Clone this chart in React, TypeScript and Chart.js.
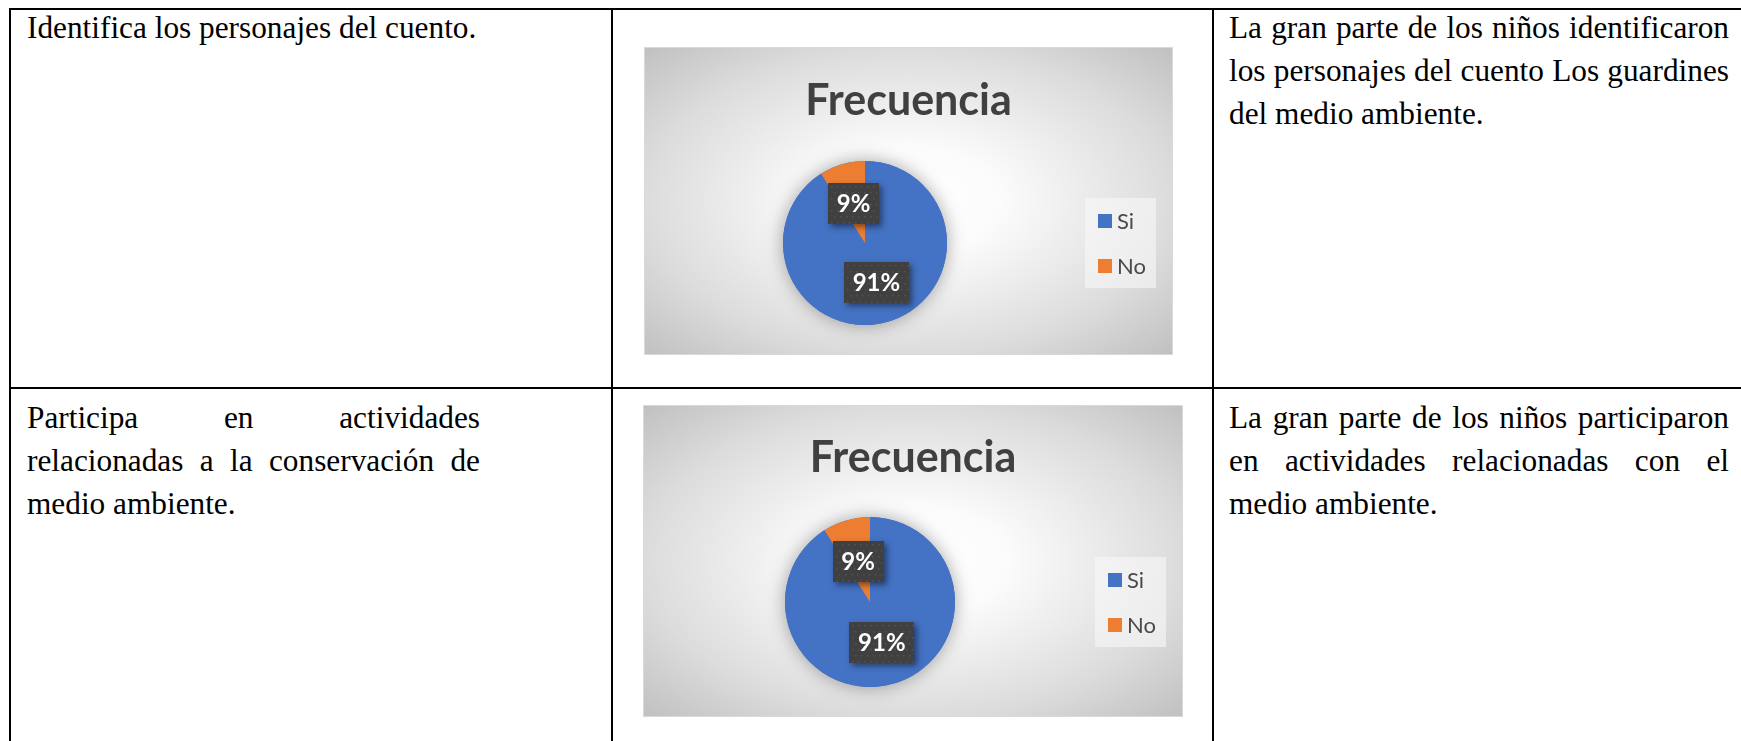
import React, { useEffect, useRef } from 'react';
import { Chart, registerables } from 'chart.js';

Chart.register(...registerables);

// ---- Data ----
const categories = ['Si', 'No'];
const chart1Values = [91, 9];
const chart2Values = [91, 9];
const chartTitle = 'Frecuencia';
const sliceColors = ['#4472C4', '#ED7D31'];

const row1Left = ['Identifica los personajes del cuento.'];
const row1Right = [
  'La gran parte de los niños identificaron',
  'los personajes del cuento Los guardines',
  'del medio ambiente.',
];
const row2Left = ['Participa en actividades', 'relacionadas a la conservación de', 'medio ambiente.'];
const row2Right = [
  'La gran parte de los niños participaron',
  'en actividades relacionadas con el',
  'medio ambiente.',
];

function makeDecor(titleBaseline: number) {
  return {
    id: 'excelDecor',
    beforeDraw(chart: any) {
      const { ctx, width, height } = chart;
      ctx.save();
      // elliptical radial background
      ctx.translate(width / 2, height / 2);
      ctx.scale(width / height, 1);
      const r = (height / 2) * Math.SQRT2;
      const g = ctx.createRadialGradient(0, 0, 0, 0, 0, r);
      g.addColorStop(0, '#ffffff');
      g.addColorStop(0.25, '#fbfbfb');
      g.addColorStop(0.7, '#dcdcdc');
      g.addColorStop(1, '#c0c0c0');
      ctx.fillStyle = g;
      ctx.fillRect(-height / 2 - 1, -height / 2 - 1, height + 2, height + 2);
      ctx.restore();

      ctx.save();
      ctx.strokeStyle = '#d9d9d9';
      ctx.lineWidth = 1;
      ctx.strokeRect(0.5, 0.5, width - 1, height - 1);

      // title
      ctx.font = 'bold 43px Lato';
      ctx.fillStyle = '#404040';
      ctx.textAlign = 'center';
      ctx.textBaseline = 'alphabetic';
      ctx.fillText(chartTitle, width / 2, titleBaseline);

      // legend
      const ca = chart.chartArea;
      const cy = (ca.top + ca.bottom) / 2;
      const bw = 71;
      const bh = 90;
      const bx = width - 17 - bw;
      const by = cy - bh / 2;
      ctx.fillStyle = 'rgba(248,248,248,0.6)';
      ctx.fillRect(bx, by, bw, bh);
      ctx.font = '22px Lato';
      ctx.textAlign = 'left';
      ctx.textBaseline = 'middle';
      categories.forEach((lab, i) => {
        const sy = by + 16 + i * 45;
        ctx.fillStyle = sliceColors[i];
        ctx.fillRect(bx + 13, sy, 14, 14);
        ctx.fillStyle = '#4a4a4a';
        ctx.fillText(lab, bx + 13 + 14 + 5, sy + 8);
      });
      ctx.restore();
    },
    beforeDatasetsDraw(chart: any) {
      const { ctx } = chart;
      const arc = chart.getDatasetMeta(0).data[0];
      if (!arc) return;
      ctx.save();
      ctx.shadowColor = 'rgba(0,0,0,0.35)';
      ctx.shadowBlur = 18;
      ctx.fillStyle = sliceColors[0];
      ctx.beginPath();
      ctx.arc(arc.x, arc.y, arc.outerRadius, 0, Math.PI * 2);
      ctx.fill();
      ctx.restore();
    },
    afterDatasetsDraw(chart: any) {
      const { ctx } = chart;
      const ds = chart.data.datasets[0].data as number[];
      const total = ds.reduce((a, b) => a + b, 0);
      const meta = chart.getDatasetMeta(0);
      meta.data.forEach((arc: any, i: number) => {
        const p = arc.tooltipPosition();
        const text = Math.round((ds[i] / total) * 100) + '%';
        ctx.save();
        ctx.font = 'bold 24px Lato';
        const tw = ctx.measureText(text).width;
        const w = Math.round(tw + 17);
        const h = 41;
        const x = Math.round(p.x - w / 2);
        const y = Math.round(p.y - h / 2);
        ctx.shadowColor = 'rgba(0,0,0,0.45)';
        ctx.shadowBlur = 6;
        ctx.shadowOffsetX = 3;
        ctx.shadowOffsetY = 3;
        ctx.fillStyle = '#404040';
        ctx.fillRect(x, y, w, h);
        ctx.shadowColor = 'transparent';
        ctx.fillStyle = 'rgba(255,255,255,0.10)';
        for (let yy = y + 3; yy < y + h; yy += 6) {
          for (let xx = x + 3 + ((yy - y) % 12 === 3 ? 0 : 3); xx < x + w; xx += 6) {
            ctx.fillRect(xx, yy, 1.5, 1.5);
          }
        }
        ctx.fillStyle = '#ffffff';
        ctx.textAlign = 'center';
        ctx.textBaseline = 'middle';
        ctx.fillText(text, p.x, y + h / 2 + 1);
        ctx.restore();
      });
    },
  };
}

function PieChart(props: {
  values: number[];
  left: number;
  top: number;
  width: number;
  height: number;
  padding: { top: number; bottom: number; left: number; right: number };
  titleBaseline: number;
}) {
  const ref = useRef<HTMLCanvasElement>(null);
  useEffect(() => {
    const chart = new Chart(ref.current as HTMLCanvasElement, {
      type: 'pie',
      data: {
        labels: categories,
        datasets: [{ data: props.values, backgroundColor: sliceColors, borderWidth: 0 }],
      },
      options: {
        responsive: false,
        animation: false,
        devicePixelRatio: 1,
        layout: { padding: props.padding },
        plugins: {
          legend: { display: false },
          title: { display: false },
          tooltip: { enabled: false },
        },
      } as any,
      plugins: [makeDecor(props.titleBaseline) as any],
    });
    return () => chart.destroy();
  }, []);
  return (
    <canvas
      ref={ref}
      width={props.width}
      height={props.height}
      style={{
        position: 'absolute',
        left: props.left,
        top: props.top,
        width: props.width,
        height: props.height,
      }}
    />
  );
}

const textBase: React.CSSProperties = {
  position: 'absolute',
  fontFamily: "'Liberation Serif', 'Times New Roman', serif",
  fontSize: 31.3,
  lineHeight: '43px',
  color: '#000',
  whiteSpace: 'normal',
};

function Lines(props: { lines: string[]; left: number; top: number; width: number; justify: boolean[] }) {
  return (
    <>
      {props.lines.map((l, i) => (
        <div
          key={i}
          style={{
            ...textBase,
            left: props.left,
            top: props.top + i * 43,
            width: props.width,
            textAlign: props.justify[i] ? 'justify' : 'left',
            textAlignLast: props.justify[i] ? 'justify' : 'left',
          } as React.CSSProperties}
        >
          {l}
        </div>
      ))}
    </>
  );
}

const line = (s: React.CSSProperties) => <div style={{ position: 'absolute', background: '#000', ...s }} />;

export default function App() {
  return (
    <div
      style={{
        position: 'absolute',
        left: 0,
        top: 0,
        width: 1741,
        height: 741,
        overflow: 'hidden',
        background: '#fff',
      }}
    >
      {line({ left: 9, top: 8, width: 1732, height: 2 })}
      {line({ left: 9, top: 387, width: 1732, height: 2 })}
      {line({ left: 9, top: 8, width: 2, height: 733 })}
      {line({ left: 611, top: 8, width: 2, height: 733 })}
      {line({ left: 1212, top: 8, width: 2, height: 733 })}

      <Lines lines={row1Left} left={27} top={6} width={453} justify={[false]} />
      <Lines lines={row1Right} left={1229} top={6} width={500} justify={[true, true, false]} />
      <Lines lines={row2Left} left={27} top={396} width={453} justify={[true, true, false]} />
      <Lines lines={row2Right} left={1229} top={396} width={500} justify={[true, true, false]} />

      <PieChart
        values={chart1Values}
        left={644}
        top={47}
        width={529}
        height={308}
        padding={{ top: 114, bottom: 30, left: 0, right: 87 }}
        titleBaseline={68}
      />
      <PieChart
        values={chart2Values}
        left={643}
        top={405}
        width={540}
        height={312}
        padding={{ top: 112, bottom: 30, left: 0, right: 86 }}
        titleBaseline={67}
      />
    </div>
  );
}
